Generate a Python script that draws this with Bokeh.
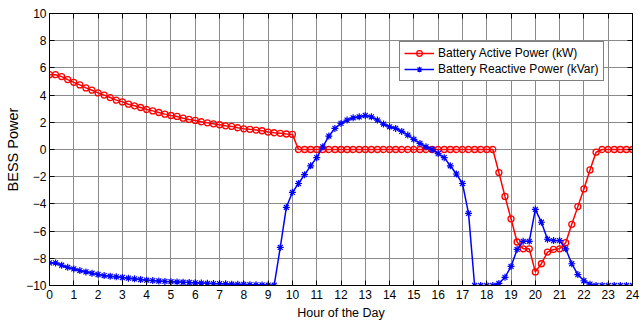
from bokeh.plotting import figure
from bokeh.models import Range1d, LinearAxis, FixedTicker, Legend, LegendItem
from bokeh.embed import file_html
from bokeh.resources import INLINE

# Hour of the day, sampled every 15 minutes
hours = [i * 0.25 for i in range(97)]

active_power = [
    5.50, 5.50, 5.36, 5.14, 4.94, 4.75, 4.53, 4.36, 4.16, 4.00,
    3.82, 3.63, 3.50, 3.33, 3.21, 3.09, 2.94, 2.84, 2.72, 2.60,
    2.50, 2.43, 2.30, 2.21, 2.14, 2.04, 1.96, 1.89, 1.82, 1.74,
    1.70, 1.60, 1.52, 1.48, 1.43, 1.38, 1.28, 1.23, 1.19, 1.14,
    1.11,
    0, 0, 0, 0, 0, 0, 0, 0, 0, 0,
    0, 0, 0, 0, 0, 0, 0, 0, 0, 0,
    0, 0, 0, 0, 0, 0, 0, 0, 0, 0,
    0, 0, 0,
    -1.70, -3.45, -5.10, -6.80, -7.30, -7.30, -9.00, -8.40, -7.55, -7.35,
    -7.30, -6.85, -5.50, -4.20, -2.90, -1.50, -0.20,
    0, 0, 0, 0, 0, 0,
]

reactive_power = [
    -8.34, -8.34, -8.51, -8.66, -8.78, -8.90, -9.00, -9.10, -9.19, -9.27,
    -9.32, -9.36, -9.41, -9.46, -9.51, -9.56, -9.61, -9.64, -9.67, -9.70,
    -9.72, -9.74, -9.76, -9.78, -9.80, -9.82, -9.84, -9.86, -9.87, -9.88,
    -9.90, -9.91, -9.92, -9.94, -9.95, -9.96, -9.97, -9.98,
    -7.20, -4.25, -3.15, -2.50, -1.85, -1.20, -0.60, 0.20, 0.99, 1.55,
    1.92, 2.16, 2.33, 2.40, 2.50, 2.40, 2.16, 1.87, 1.67, 1.55,
    1.33, 1.06, 0.75, 0.45, 0.20, 0.00, -0.30, -0.60, -1.20, -1.80,
    -2.50, -4.70,
    -10, -10, -10, -10,
    -9.85, -9.40, -8.60, -7.35, -6.75, -6.75, -4.40, -5.35, -6.60, -6.70,
    -6.70, -7.30, -8.40, -9.20, -9.65, -9.90,
    -10, -10, -10, -10, -10, -10, -10,
]

x_ticks = list(range(0, 25))
y_ticks = list(range(-10, 11, 2))

FONT = "Liberation Sans"

p = figure(
    width=643, height=322,
    output_backend="svg", toolbar_location=None,
    x_range=Range1d(0, 24), y_range=Range1d(-10, 10),
    min_border_left=49, min_border_right=11, min_border_top=13, min_border_bottom=36,
    x_axis_label="Hour of the Day", y_axis_label="BESS Power",
)
p.outline_line_color = "black"
p.outline_line_width = 1
p.background_fill_color = "white"
p.border_fill_color = "white"

p.xaxis.ticker = FixedTicker(ticks=x_ticks)
p.yaxis.ticker = FixedTicker(ticks=y_ticks)

for ax in (p.xaxis[0], p.yaxis[0]):
    ax.major_tick_in = 5
    ax.major_tick_out = 0
    ax.minor_tick_line_color = None
    ax.axis_line_color = "black"
    ax.major_tick_line_color = "black"
    ax.major_label_text_font = FONT
    ax.major_label_text_font_size = "12px"
    ax.major_label_text_color = "black"
    ax.axis_label_text_font = FONT
    ax.axis_label_text_font_style = "normal"
    ax.axis_label_text_color = "black"

p.xaxis.axis_label_text_font_size = "12.5px"
p.yaxis.axis_label_text_font_size = "14.5px"
p.xaxis.major_label_standoff = 4
p.xaxis.axis_label_standoff = 4
p.yaxis.major_label_standoff = 3
p.yaxis.axis_label_standoff = 2

# Top and right axes: tick marks only (labels not painted)
top = LinearAxis(ticker=FixedTicker(ticks=x_ticks), major_label_text_font_size="1px",
                 major_label_text_color=None,
                 major_tick_in=5, major_tick_out=0, minor_tick_line_color=None,
                 major_label_standoff=0)
right = LinearAxis(ticker=FixedTicker(ticks=y_ticks), major_label_text_font_size="1px",
                   major_label_text_color=None,
                   major_tick_in=5, major_tick_out=0, minor_tick_line_color=None,
                   major_label_standoff=0)
p.add_layout(top, "above")
p.add_layout(right, "right")

p.xgrid.ticker = FixedTicker(ticks=x_ticks)
p.ygrid.ticker = FixedTicker(ticks=y_ticks)
for g in (p.xgrid[0], p.ygrid[0]):
    g.grid_line_color = "#8a8a8a"
    g.grid_line_width = 1

r1l = p.line(hours, active_power, line_color="#ff0000", line_width=1.5)
r1m = p.scatter(hours, active_power, marker="circle", size=6, line_color="#ff0000",
                fill_color=None, line_width=1.3)
r2l = p.line(hours, reactive_power, line_color="#0000ff", line_width=1.5)
r2m = p.scatter(hours, reactive_power, marker="asterisk", size=7, line_color="#0000ff",
                line_width=1.2)

legend = Legend(
    items=[
        LegendItem(label="Battery Active Power (kW)", renderers=[r1l, r1m]),
        LegendItem(label="Battery Reactive Power (kVar)", renderers=[r2l, r2m]),
    ],
    location=(350, 204),
    label_text_font=FONT, label_text_font_size="12px", label_text_color="black",
    border_line_color="black", border_line_width=1,
    background_fill_color="white", background_fill_alpha=1,
    padding=4, spacing=2, margin=0,
    glyph_width=30, glyph_height=14, label_height=14, label_standoff=4,
)
p.add_layout(legend, "center")

open("out.html", "w").write(file_html(p, INLINE))
